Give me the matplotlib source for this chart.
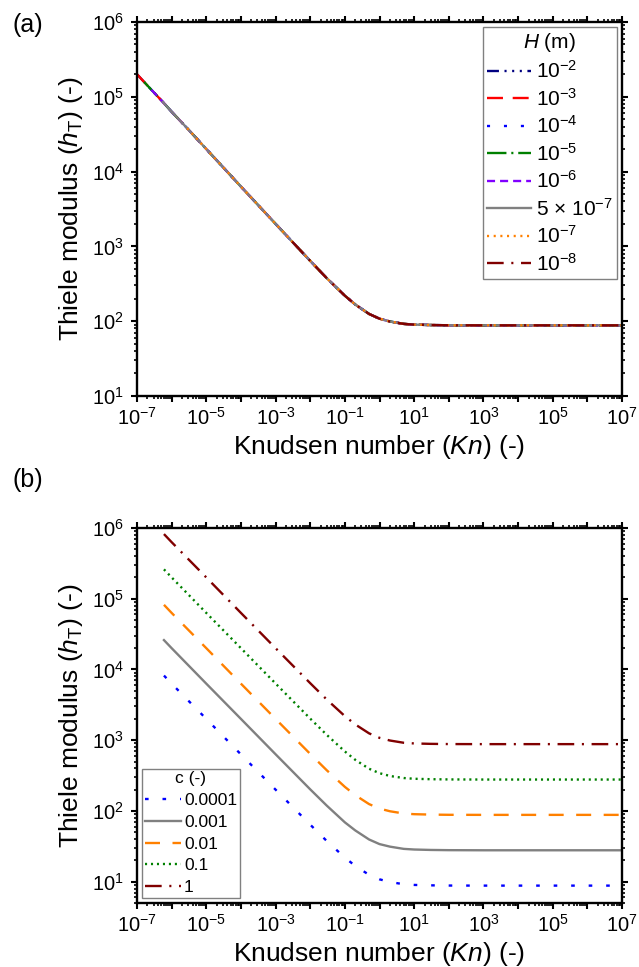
import matplotlib
matplotlib.use('Agg')
import matplotlib.pyplot as plt
import matplotlib.ticker as mticker
import numpy as np

plt.rcParams['font.family'] = ['Liberation Sans', 'DejaVu Sans']
plt.rcParams['mathtext.fontset'] = 'custom'
plt.rcParams['mathtext.rm'] = 'Liberation Sans'
plt.rcParams['mathtext.it'] = 'Liberation Sans:italic'
plt.rcParams['mathtext.bf'] = 'Liberation Sans:bold'
plt.rcParams['lines.scale_dashes'] = False

# ---- panel (a): all H curves fall on one line, read once ----
kn_a = [1e-7, 1.6e-7, 2.4e-7, 2.6e-7, 5.6e-7, 1e-6, 2.8e-6, 1e-5, 1e-4, 1e-3, 3e-3,
        1e-2, 3e-2, 0.1, 0.2, 0.5, 1, 2, 5, 10, 30, 100, 1e3, 1e4, 1e5, 1e6, 1e7]
h_a = [2.0e5, 1.58e5, 1.29e5, 1.24e5, 8.5e4, 6.3e4, 3.8e4, 2.0e4, 6.3e3, 2.0e3, 1.16e3,
       640, 376, 219, 167, 125, 108, 99, 92, 90, 88.8, 88.2, 88, 88, 88, 88, 88]

H_labels = ['10$^{-2}$', '10$^{-3}$', '10$^{-4}$', '10$^{-5}$', '10$^{-6}$',
            '5 × 10$^{-7}$', '10$^{-7}$', '10$^{-8}$']
# Kn where each H curve begins (visible at the upper left of panel a)
kn_start_a = [1e-7, 1e-7, 2.4e-7, 1.6e-7, 2.6e-7, 5.6e-7, 2.8e-6, 3e-3]

# ---- panel (b): different c ----
kn_b = [6e-7, 1e-6, 1e-5, 1e-4, 1e-3, 1e-2, 3e-2, 0.1, 0.2, 0.5, 1, 2, 5, 10, 30, 100,
        1e3, 1e4, 1e5, 1e6, 1e7]
c_labels = ['0.0001', '0.001', '0.01', '0.1', '1']
h_c1 = [8.2e3, 6.3e3, 2.0e3, 630, 200, 64, 37.6, 21.9, 16.7, 12.5, 10.8, 9.9, 9.2, 9.0,
        8.88, 8.82, 8.8, 8.8, 8.8, 8.8, 8.8]
h_c2 = [2.6e4, 2.0e4, 6.3e3, 2.0e3, 633, 202, 119, 69, 53, 39.5, 34, 31.3, 29.1, 28.5,
        28.1, 27.9, 27.8, 27.8, 27.8, 27.8, 27.8]
h_c3 = [8.2e4, 6.3e4, 2.0e4, 6.3e3, 2.0e3, 640, 376, 219, 167, 125, 108, 99, 92, 90,
        88.8, 88.2, 88, 88, 88, 88, 88]
h_c4 = [2.6e5, 2.0e5, 6.3e4, 2.0e4, 6.33e3, 2.02e3, 1.19e3, 693, 528, 395, 342, 312, 292,
        285, 281, 279, 278, 278, 278, 278, 278]
h_c5 = [8.2e5, 6.3e5, 2.0e5, 6.3e4, 2.0e4, 6.4e3, 3.76e3, 2.19e3, 1.67e3, 1.25e3, 1.08e3,
        990, 920, 900, 888, 882, 880, 880, 880, 880, 880]
h_b = [h_c1, h_c2, h_c3, h_c4, h_c5]

# styles (dash lengths in points)
styles_a = [('#000080', (0, (8.6, 4, 1.5, 4, 1.5, 4, 1.5, 4))),
            ('#FF0000', (0, (11.5, 7))),
            ('#0000FF', (0, (2.2, 10))),
            ('#008000', (0, (14, 3.5, 1.5, 3.5))),
            ('#8000FF', (0, (5.8, 3.6))),
            ('#808080', '-'),
            ('#FF8000', (0, (1.5, 3.3))),
            ('#800000', (0, (12, 5.5, 1.5, 5.5)))]
styles_b = [('#0000FF', (0, (2.6, 10))),
            ('#808080', '-'),
            ('#FF8000', (0, (10.8, 9))),
            ('#008000', (0, (1.5, 2.8))),
            ('#800000', (0, (12, 5.5, 1.5, 5.5)))]

lw = 1.7


def odd_exp(v, pos):
    e = int(round(np.log10(v)))
    if e % 2 == 0:
        return ''
    return '$\\mathdefault{10^{%d}}$' % e


def style_axes(ax, ymin):
    ax.set_xscale('log')
    ax.set_yscale('log')
    ax.set_xlim(1e-7, 1e7)
    ax.set_ylim(ymin, 1e6)
    ax.xaxis.set_major_locator(mticker.LogLocator(base=10, numticks=30))
    ax.xaxis.set_minor_locator(mticker.LogLocator(base=10, subs=np.arange(2, 10), numticks=100))
    ax.xaxis.set_major_formatter(mticker.FuncFormatter(odd_exp))
    ax.xaxis.set_minor_formatter(mticker.NullFormatter())
    ax.yaxis.set_major_locator(mticker.LogLocator(base=10, numticks=30))
    ax.yaxis.set_minor_locator(mticker.LogLocator(base=10, subs=np.arange(2, 10), numticks=100))
    ax.yaxis.set_minor_formatter(mticker.NullFormatter())
    ax.tick_params(which='both', direction='out', top=True, right=True, labelsize=14.5)
    ax.tick_params(which='major', length=4.5, width=1.5)
    ax.tick_params(axis='y', which='major', pad=5)
    ax.tick_params(which='minor', length=2.5, width=1.2)
    for s in ax.spines.values():
        s.set_linewidth(1.7)
    ax.set_xlabel('Knudsen number ($Kn$) (-)', fontsize=19, labelpad=3)
    ax.set_ylabel('Thiele modulus ($h_{\\mathrm{T}}$) (-)', fontsize=19, labelpad=5)


fig = plt.figure(figsize=(6.39, 9.67), dpi=100)
ax1 = fig.add_axes([0.2144, 0.5905, 0.759, 0.3868])
ax2 = fig.add_axes([0.2144, 0.0662, 0.759, 0.3878])

kn_a_arr = np.array(kn_a)
h_a_arr = np.array(h_a)
for lab, start, (col, ls) in zip(H_labels, kn_start_a, styles_a):
    m = kn_a_arr >= start
    ax1.plot(kn_a_arr[m], h_a_arr[m], color=col, linestyle=ls, lw=lw, label=lab)

for lab, h, (col, ls) in zip(c_labels, h_b, styles_b):
    ax2.plot(kn_b, h, color=col, linestyle=ls, lw=lw, label=lab)

style_axes(ax1, 10)
style_axes(ax2, 5)

leg1 = ax1.legend(loc='upper right', title='$H$ (m)', fontsize=15, title_fontsize=15,
                  frameon=True, fancybox=False, edgecolor='#808080', framealpha=1,
                  handlelength=2.1, handletextpad=0.25, labelspacing=0.27,
                  borderaxespad=0.25, borderpad=0.2)
leg1.get_frame().set_linewidth(1.0)

leg2 = ax2.legend(loc='lower left', title='c (-)', fontsize=12.5, title_fontsize=12.5,
                  frameon=True, fancybox=False, edgecolor='#808080', framealpha=1,
                  handlelength=2.1, handletextpad=0.15, labelspacing=0.38,
                  borderaxespad=0.3, borderpad=0.15)
leg2.get_frame().set_linewidth(1.0)

fig.text(0.02, 0.974, '(a)', fontsize=18, va='center', ha='left')
fig.text(0.02, 0.504, '(b)', fontsize=18, va='center', ha='left')

fig.savefig('out.png', dpi=100)
